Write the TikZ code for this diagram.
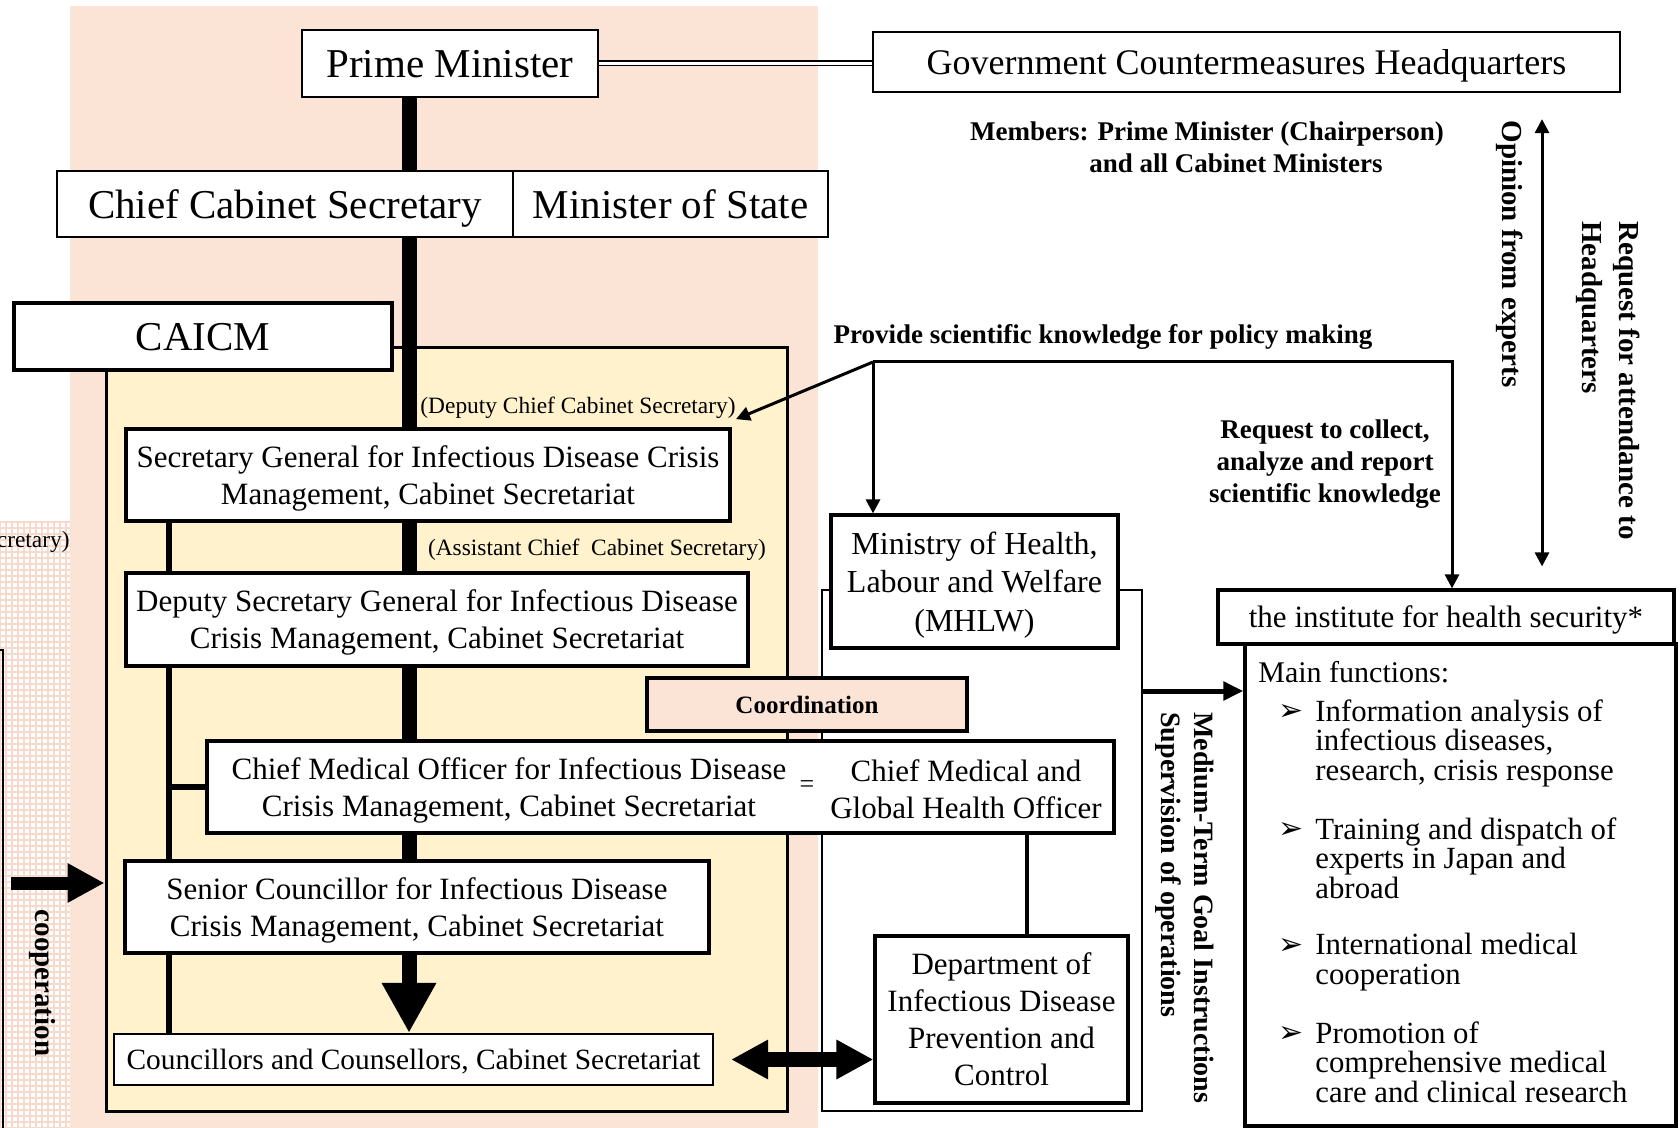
\documentclass[tikz,border=0pt]{standalone}
\usepackage{fontspec}
\setmainfont{Liberation Serif}
\newfontfamily\symfont{DejaVu Sans}
\usetikzlibrary{arrows, arrows.meta}
\usetikzlibrary{calc}
\definecolor{peach}{HTML}{FBE4D5}
\definecolor{paleyellow}{HTML}{FFF2CC}
\definecolor{gridpink}{HTML}{F8DACD}
\newcommand{\fsz}[2]{\fontsize{#1pt}{#2pt}\selectfont}
\pgfdeclarelayer{back}
\pgfdeclarelayer{wires}
\pgfsetlayers{back,wires,main}

\begin{document}
\begin{tikzpicture}[x=0.5pt, y=-0.5pt,
    box/.style={draw, line width=1.6pt, fill=white, align=center, inner sep=0pt, text depth=0pt, font=\fsz{15.5}{18.5}},
    thinbox/.style={box, line width=1.1pt},
    note/.style={inner sep=0pt, align=center, font=\bfseries\fsz{13.5}{16}},
    side/.style={note, rotate=-90, align=left, font=\bfseries\fsz{14.5}{18.5}},
    small/.style={inner sep=0pt, font=\fsz{11.7}{14}},
    item/.style={anchor=north west, inner sep=0pt, align=left, font=\fsz{15.4}{14.8}},
    bullet/.style={inner sep=0pt, font=\symfont\fsz{15}{15}},
    trunk/.style={line width=7.5pt},
    branch/.style={line width=3pt},
    conn/.style={line width=1.5pt, -{Triangle[length=7pt, width=7pt]}},
    bigdown/.style={line width=7.5pt, -{Triangle[length=25pt, width=25.5pt]}},
    bigboth/.style={line width=7.5pt, {Triangle[length=18.5pt, width=18.5pt]}-{Triangle[length=18.5pt, width=18.5pt]}},
    coopar/.style={line width=6.5pt, -{Triangle[length=18.5pt, width=18.5pt]}},
    midar/.style={line width=2.5pt, -{Triangle[length=10pt, width=9pt]}}]
      \useasboundingbox (0,0) rectangle (1680,1128);

      \begin{pgfonlayer}{back}
      \fill[white] (0,0) rectangle (1680,1128);
      \fill[peach] (70,6) rectangle (818,1128);
      \draw[gridpink, line width=0.8pt, step=3pt] (0,522) grid (70,1128);
      \draw[line width=0.8pt] (0,650) -- (3,650) -- (3,1128);
      \node[draw, line width=1.5pt, fill=paleyellow, inner sep=0pt, minimum width=340.5pt, minimum height=381.5pt] (area) at (446.5,729.5) {};
      \node[draw, line width=1pt, fill=white, inner sep=0pt, minimum width=160pt, minimum height=260.5pt] (frame) at (982,850.5) {};
      \end{pgfonlayer}

      \node[thinbox, font=\fsz{20.5}{24}, minimum width=148pt, minimum height=33.5pt] (pm) at (450,63.5) {Prime Minister};
      \node[thinbox, font=\fsz{18}{22}, minimum width=373.5pt, minimum height=30pt] (hq) at (1246.5,62) {Government Countermeasures Headquarters};
      \node[thinbox, font=\fsz{20.5}{24}, minimum width=228pt, minimum height=33pt] (ccs) at (285,204) {Chief Cabinet Secretary};
      \node[thinbox, font=\fsz{20.5}{24}, minimum width=157.5pt, minimum height=33pt] (mos) at (670.5,204) {Minister of State};
      \node[box, line width=1.8pt, font=\fsz{20.5}{24}, minimum width=189pt, minimum height=33.5pt] (caicm) at (203,336.5) {CAICM};

      \node[note] (members) at (1207,147) {Members: Prime Minister (Chairperson)\\\hspace*{29pt}and all Cabinet Ministers};
      \node[note] (provide) at (1103,337) {Provide scientific knowledge for policy making};
      \node[note] (request) at (1325,464) {Request to collect,\\analyze and report\\scientific knowledge};
      \node[side] (opinion) at (1510,254) {Opinion from experts};
      \node[side, anchor=west] (attend) at (1608,221) {Request for attendance to\\Headquarters};
      \node[side, anchor=west, font=\bfseries\fsz{14}{16.5}] (medium) at (1185,712) {Medium-Term Goal Instructions\\Supervision of operations};
      \node[side] (coop) at (42,983) {cooperation};
      \node[small, anchor=east] (cut) at (70,542) {cretary)};
      \node[small] (dccs) at (578,408) {(Deputy Chief Cabinet Secretary)};
      \node[small] (accs) at (597,550) {(Assistant Chief\ \ Cabinet Secretary)};

      \node[box, minimum width=302pt, minimum height=46pt] (sg) at (428,475) {Secretary General for Infectious Disease Crisis\\Management, Cabinet Secretariat};
      \node[box, minimum width=311pt, minimum height=46.5pt] (dsg) at (437,619.5) {Deputy Secretary General for Infectious Disease\\Crisis Management, Cabinet Secretariat};
      \node[box, fill=peach, font=\bfseries\fsz{12.5}{15}, minimum width=160pt, minimum height=26.5pt] (coord) at (807,704.5) {Coordination};
      \node[box, minimum width=453.5pt, minimum height=46pt] (cmo) at (660.5,787) {};
      \node[inner sep=0pt, align=center, font=\fsz{15.5}{18.5}] (cmoa) at (509,790) {Chief Medical Officer for Infectious Disease\\Crisis Management, Cabinet Secretariat};
      \node[inner sep=0pt, font=\fsz{13}{13}] (eq) at (807,787) {=};
      \node[inner sep=0pt, align=center, font=\fsz{15.5}{18.5}] (cmob) at (966,789) {Chief Medical and\\Global Health Officer};
      \node[box, minimum width=292pt, minimum height=46pt] (sc) at (417,907) {Senior Councillor for Infectious Disease\\Crisis Management, Cabinet Secretariat};
      \node[thinbox, font=\fsz{14.7}{17}, minimum width=299.5pt, minimum height=25.5pt] (cc) at (413.5,1059.5) {Councillors and Counsellors, Cabinet Secretariat};

      \node[box, font=\fsz{16}{19.3}, minimum width=143.5pt, minimum height=66.5pt] (mhlw) at (974.5,581.5) {Ministry of Health,\\Labour and Welfare\\(MHLW)};
      \node[box, text depth=-3.2pt, minimum width=126.5pt, minimum height=83.5pt] (dept) at (1001.5,1019.5) {Department of\\Infectious Disease\\Prevention and\\Control};
      \node[box, minimum width=228pt, minimum height=27pt] (ihs) at (1446,617) {the institute for health security*};
      \node[box, minimum width=215.5pt, minimum height=241pt] (mf) at (1460.5,885) {};
      \node[anchor=west, inner sep=0pt, font=\fsz{15}{15}] (mft) at (1258,672) {Main functions:};
      \node[bullet] (b1) at (1291,712) {➢};
      \node[item] (i1) at (1315,699) {Information analysis of\\infectious diseases,\\research, crisis response};
      \node[bullet] (b2) at (1291,830) {➢};
      \node[item] (i2) at (1315,817) {Training and dispatch of\\experts in Japan and\\abroad};
      \node[bullet] (b3) at (1291,946) {➢};
      \node[item] (i3) at (1315,933) {International medical\\cooperation};
      \node[bullet] (b4) at (1291,1034) {➢};
      \node[item] (i4) at (1315,1021) {Promotion of\\comprehensive medical\\care and clinical research};

      \begin{pgfonlayer}{wires}
      \coordinate (tx) at (409,0);
      \coordinate (lx) at (169,0);
      \coordinate (dx) at (1027,0);
      \coordinate (ox) at (1542,0);
      \coordinate (rx) at (1452,0);
      \coordinate (ay) at (0,691);
      \coordinate (fork) at (873,362);
      \coordinate (coopstart) at (11,883);
      \draw[double, double distance=1.6pt, line width=0.7pt] (pm.east) -- (hq.west |- pm.east);
      \draw[trunk] (pm.south -| tx) -- (ccs.north -| tx);
      \draw[trunk] (ccs.south -| tx) -- (sg.north -| tx);
      \draw[trunk] (sg.south -| tx) -- (dsg.north -| tx);
      \draw[trunk] (dsg.south -| tx) -- (cmo.north -| tx);
      \draw[trunk] (cmo.south -| tx) -- (sc.north -| tx);
      \draw[bigdown] (sc.south -| tx) -- (cc.north -| tx);
      \draw[branch] (sg.south -| lx) -- (cc.north -| lx);
      \draw[branch] (lx |- cmo.west) -- (cmo.west);
      \draw[line width=2.2pt] (cmo.south -| dx) -- (dept.north -| dx);
      \draw[bigboth, shorten <=8.5pt] (cc.east) -- (dept.west |- cc.east);
      \draw[coopar] (coopstart) -- (area.west |- coopstart);
      \draw[midar] (frame.east |- ay) -- (mf.west |- ay);
      \draw[conn] (fork) -- (mhlw.north -| fork);
      \draw[conn] (fork) -- (dccs.south east);
      \draw[conn] (fork) -- (fork -| rx) -- (ihs.north -| rx);
      \draw[conn, {Triangle[length=7pt, width=7pt]}-{Triangle[length=7pt, width=7pt]}, shorten <=13pt, shorten >=11pt] (hq.south -| ox) -- (ihs.north -| ox);
      \end{pgfonlayer}
    \end{tikzpicture}
\end{document}
